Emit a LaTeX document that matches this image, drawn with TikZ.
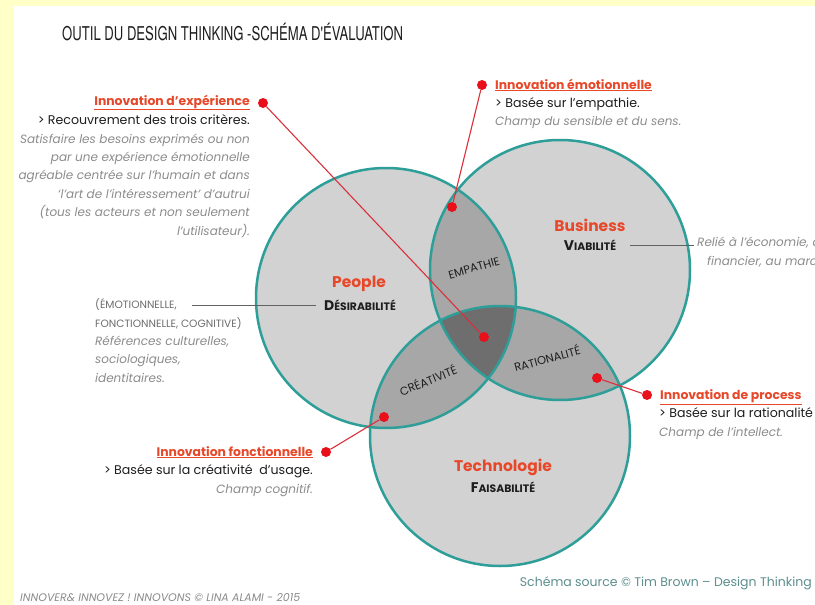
\documentclass[tikz,border=0pt]{standalone}
\usepackage{fontspec}
\setmainfont{Poppins}
\newfontfamily\titlefont[FakeStretch=0.69]{TeX Gyre Heros}
\definecolor{bgyellow}{HTML}{FFFFC8}
\definecolor{cfill}{HTML}{D2D2D2}
\definecolor{cpair}{HTML}{A7A7A7}
\definecolor{ctriple}{HTML}{6E6E6E}
\definecolor{cteal}{HTML}{2E9E99}
\definecolor{cred}{HTML}{E8101A}
\definecolor{credline}{HTML}{D9303A}
\definecolor{corange}{HTML}{E8482A}
\definecolor{cgray}{HTML}{8C8C8C}
\definecolor{cdark}{HTML}{1E1E1E}
\definecolor{cfoot}{HTML}{5E8E8E}
\newcommand{\fsc}[2]{{\fontsize{14}{16}\selectfont #1}{\fontsize{10.8}{16}\selectfont #2}}
\begin{document}
\begin{tikzpicture}[x=1pt,y=-1pt,
  circ/.style={draw=cteal, line width=2.5pt},
  reddot/.style={circle, fill=cred, inner sep=0pt, minimum size=10pt},
  redline/.style={draw=credline, line width=1.1pt},
  head/.style={inner sep=0pt, text=corange, font=\bfseries\fontsize{12.4}{14}\selectfont},
  body/.style={inner sep=0pt, text=cdark, font=\fontsize{12.6}{14}\selectfont},
  note/.style={inner sep=0pt, text=cgray, font=\itshape\fontsize{12}{18.4}\selectfont},
  caps/.style={inner sep=0pt, text=cdark!65, font=\fontsize{10.6}{19}\selectfont},
  big/.style={inner sep=0pt, text=corange, font=\bfseries\fontsize{15.5}{18}\selectfont},
  sc/.style={inner sep=0pt, text=cdark, font=\bfseries},
  zone/.style={inner sep=0pt, text=cdark, font=\fontsize{11.4}{13}\selectfont},
  thin/.style={draw=cdark!70, line width=0.7pt}
]
\useasboundingbox (0,0) rectangle (815,605);
\fill[white] (0,0) rectangle (815,605);
\fill[bgyellow] (0,0) rectangle (815,6);
\fill[bgyellow] (0,0) rectangle (14,605);

% title
\node[anchor=base west, inner sep=0pt, text=cdark, font=\titlefont\fontsize{19}{20}\selectfont] (title) at (62,40) {OUTIL DU DESIGN THINKING -SCHÉMA D'ÉVALUATION};

% circles
\coordinate (P) at (386,298);
\coordinate (B) at (560,270);
\coordinate (T) at (500,436);
\def\R{130}
\fill[cfill] (P) circle (\R);
\fill[cfill] (B) circle (\R);
\fill[cfill] (T) circle (\R);
\begin{scope}
  \clip (P) circle (\R);
  \fill[cpair] (B) circle (\R);
  \fill[cpair] (T) circle (\R);
\end{scope}
\begin{scope}
  \clip (B) circle (\R);
  \fill[cpair] (T) circle (\R);
\end{scope}
\begin{scope}
  \clip (P) circle (\R);
  \clip (B) circle (\R);
  \fill[ctriple] (T) circle (\R);
\end{scope}
\draw[circ] (P) circle (\R);
\draw[circ] (B) circle (\R);
\draw[circ] (T) circle (\R);

% zone labels
\node[zone, rotate=16] (empathie) at (474,268) {EMPATHIE};
\node[zone, rotate=22] (creativite) at (428,380) {CRÉATIVITÉ};
\node[zone, rotate=15] (rationalite) at (547,358) {RATIONALITÉ};

% circle labels
\node[big] (people) at (359,284) {People};
\node[sc] (desir) at (360,305) {\fsc{D}{ÉSIRABILITÉ}};
\node[big] (business) at (590,225) {Business};
\node[sc] (viab) at (590,245) {\fsc{V}{IABILITÉ}};
\node[big] (techno) at (503,467) {Technologie};
\node[sc] (faisa) at (503,487) {\fsc{F}{AISABILITÉ}};

% left People text
\node[caps, anchor=base west] (emo1) at (95,308) {(ÉMOTIONNELLE,};
\node[caps, anchor=base west] (emo2) at (95,327) {FONCTIONNELLE, COGNITIVE)};
\node[note, anchor=base west, align=left] (refs) at (95,382) {Références culturelles,\\sociologiques,\\identitaires.};
\draw[thin] ([xshift=15pt]emo1.east |- desir.west) -- ([xshift=-8pt]desir.west);

% business right text
\node[note, anchor=base west] (relie) at (697,246) {Relié à l'économie, au};
\node[note, anchor=base west] (financier) at (707,265) {financier, au marché.};
\draw[thin] ([xshift=14pt]viab.east) -- ([xshift=-3pt]relie.west |- viab.east);

% Innovation d'expérience
\node[head, anchor=base east] (hexp) at (250,105) {\underline{Innovation d'expérience}};
\node[body, anchor=base east] (bexp) at (250,124) {> Recouvrement des trois critères.};
\node[note, anchor=base east, align=right] (nexp) at (250,235) {Satisfaire les besoins exprimés ou non\\par une expérience émotionnelle\\agréable centrée sur l'humain et dans\\‘l'art de l'intéressement’ d'autrui\\(tous les acteurs et non seulement\\l'utilisateur).};

% Innovation émotionnelle
\node[head, anchor=base west] (hemo) at (495,89) {\underline{Innovation émotionnelle}};
\node[body, anchor=base west] (bemo) at (495,107) {> Basée sur l'empathie.};
\node[note, anchor=base west] (nemo) at (495,125) {Champ du sensible et du sens.};

% Innovation de process
\node[head, anchor=base west] (hpro) at (660,399) {\underline{Innovation de process}};
\node[body, anchor=base west] (bpro) at (659,417) {> Basée sur la rationalité};
\node[note, anchor=base west] (npro) at (659,436) {Champ de l'intellect.};

% Innovation fonctionnelle
\node[head, anchor=base east] (hfon) at (313,456) {\underline{Innovation fonctionnelle}};
\node[body, anchor=base east] (bfon) at (313,474) {> Basée sur la créativité \ d'usage.};
\node[note, anchor=base east] (nfon) at (313,493) {Champ cognitif.};

% red dots and connectors
\node[reddot] (dexp) at (263,103) {};
\node[reddot] (dtri) at (484,337) {};
\node[reddot] (demo) at (482,85) {};
\node[reddot] (demp) at (452,207) {};
\node[reddot] (dpro) at (647,395) {};
\node[reddot] (drat) at (597,378) {};
\node[reddot] (dfon) at (326,452) {};
\node[reddot] (dcre) at (384,417) {};
\draw[redline] (dexp) -- (dtri);
\draw[redline] (demo) -- (demp);
\draw[redline] (dpro) -- (drat);
\draw[redline] (dfon) -- (dcre);

% footers
\node[inner sep=0pt, anchor=base east, text=cfoot, font=\fontsize{12.5}{14}\selectfont] (source) at (812,586) {Schéma source © Tim Brown – Design Thinking};
\node[inner sep=0pt, anchor=base west, text=cgray, font=\itshape\fontsize{11}{12}\selectfont] (credit) at (20,601.5) {INNOVER\& INNOVEZ ! INNOVONS © LINA ALAMI - 2015};
\end{tikzpicture}
\end{document}
